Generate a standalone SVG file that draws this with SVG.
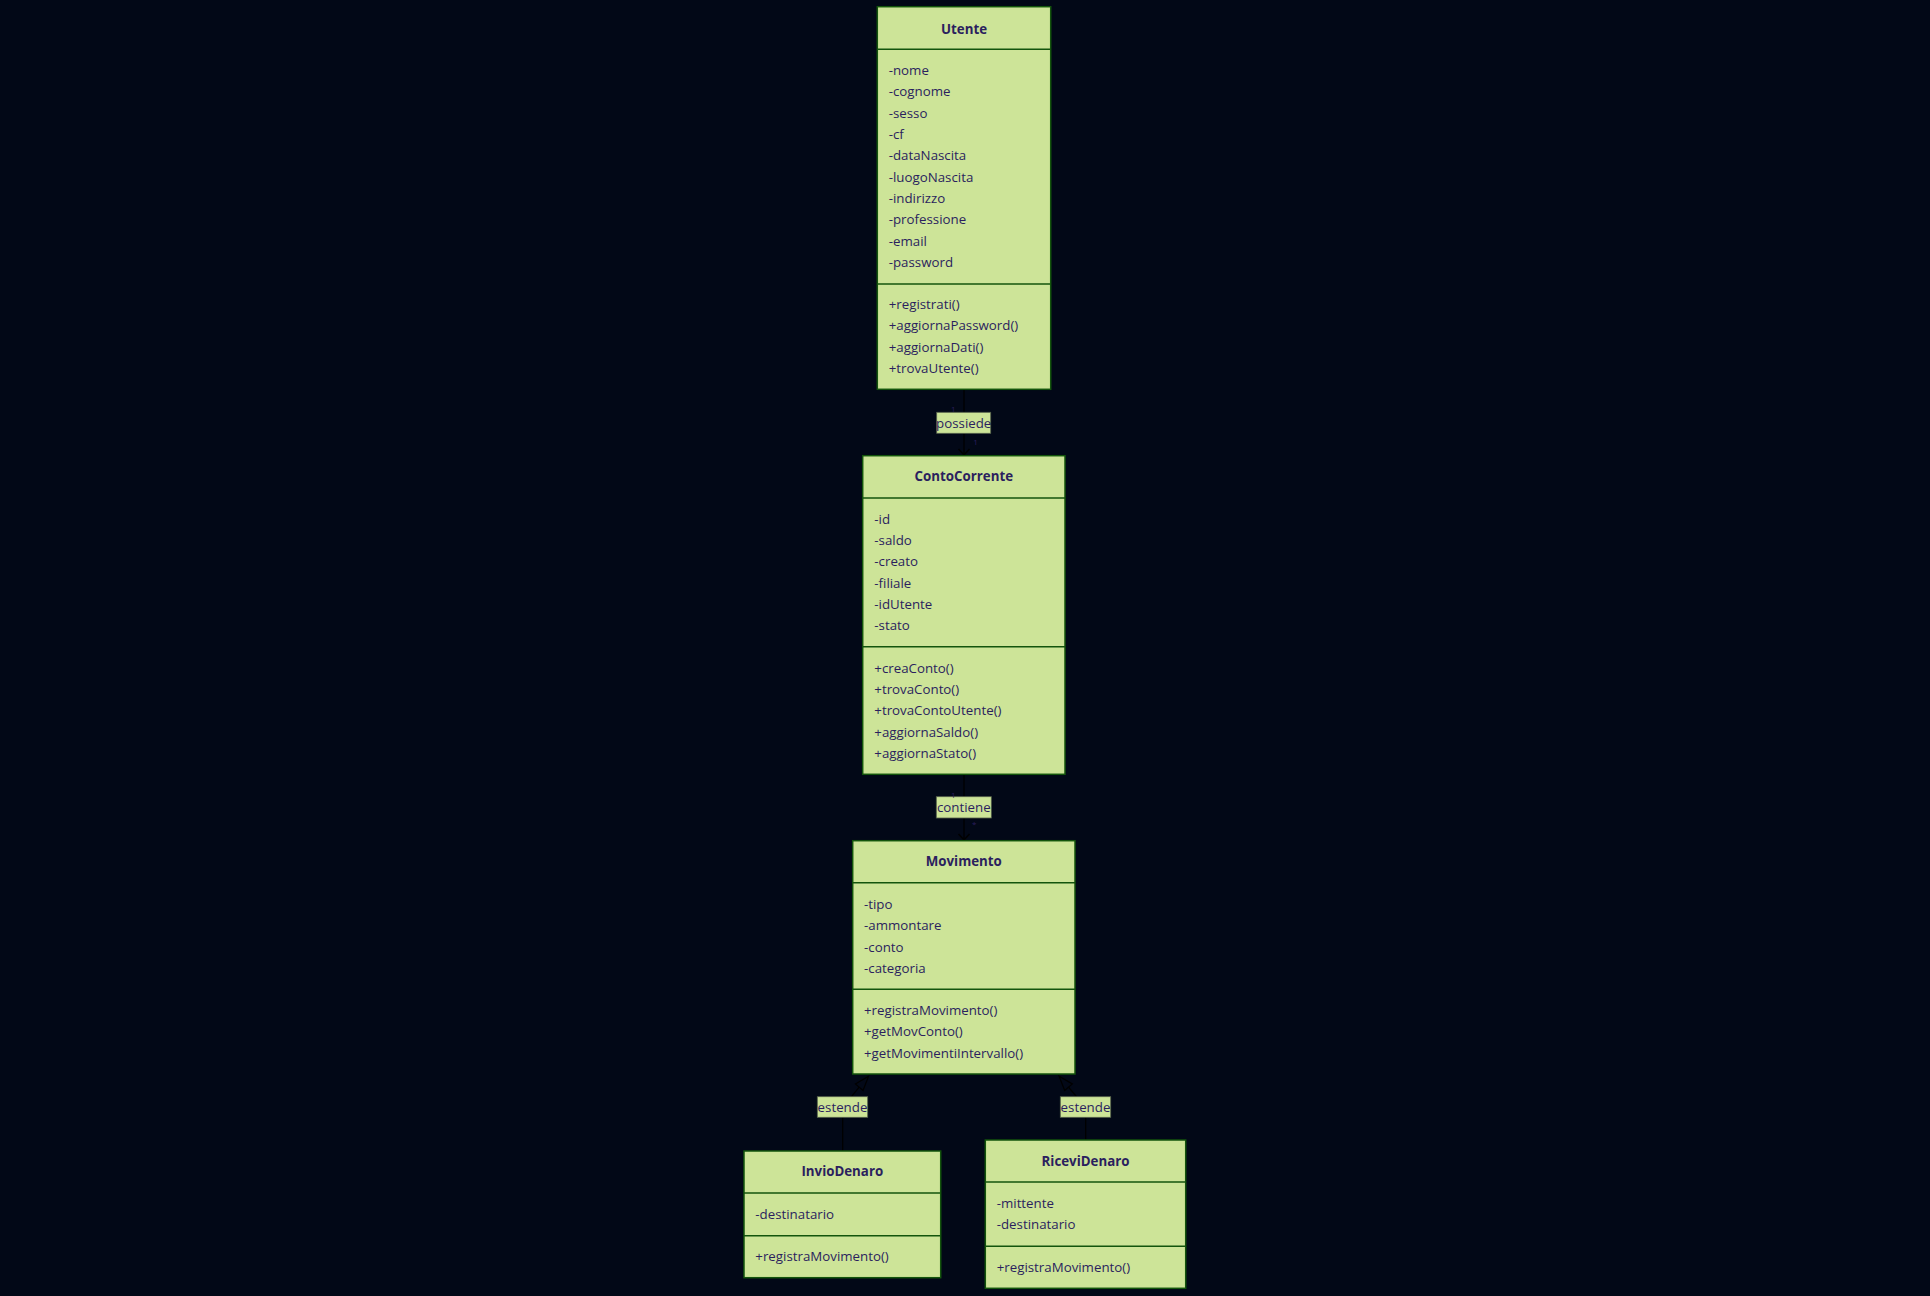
<svg xmlns="http://www.w3.org/2000/svg" width="1930" height="1296" viewBox="0 0 1930 1296">
<defs>
<style>
.bg{fill:#020817}
.box{fill:#cde498;stroke:#13540c;stroke-width:1.5}
.div{stroke:#13540c;stroke-width:1.5}
.t{font-family:"Open Sans","Noto Sans","DejaVu Sans",sans-serif;font-size:13.3px;fill:#2b1f5e}
.title{font-weight:bold;text-anchor:middle}
.edge{fill:none;stroke:#000;stroke-width:1.3}
.lbl{fill:#cde498;stroke:#55604a;stroke-width:0.8}
.lt{text-anchor:middle}
.card{font-family:"Open Sans","Noto Sans","DejaVu Sans",sans-serif;font-size:8px;fill:#2b1f5e;text-anchor:middle}
</style>
<marker id="openArrow" markerUnits="userSpaceOnUse" markerWidth="14" markerHeight="10" viewBox="0 0 14 10" refX="7" refY="9" orient="0" overflow="visible">
<path d="M1.5,3 L7,9 L12.5,3" fill="none" stroke="#000" stroke-width="1.5"/>
</marker>
<marker id="ext" markerUnits="userSpaceOnUse" markerWidth="16" markerHeight="12" viewBox="0 0 16 12" refX="0.5" refY="6" orient="auto" overflow="visible">
<path d="M0.5,1 L15,6 L0.5,11 Z" fill="#020817" stroke="#000" stroke-width="1.2"/>
</marker>
</defs>
<rect class="bg" x="0" y="0" width="1930" height="1296"/>

<g id="connectors">
<path class="edge" d="M964,389.5 L964,455" marker-end="url(#openArrow)"/>
<path class="edge" d="M964,774.5 L964,840" marker-end="url(#openArrow)"/>
<path class="edge" d="M842.7,1151 L842.7,1118 C842.7,1106 850,1098 859.2,1087.2" marker-end="url(#ext)"/>
<path class="edge" d="M1085.7,1140 L1085.7,1118 C1085.7,1106 1077.7,1098 1068.5,1087.2" marker-end="url(#ext)"/>
<g id="label-possiede">
<rect class="lbl" x="936.7" y="412.3" width="54" height="21"/>
<text class="t lt" x="963.7" y="427.5">possiede</text>
<text class="card" x="953.3" y="411.5">1</text>
<text class="card" x="975.5" y="444.5">1</text>
</g>
<g id="label-contiene">
<rect class="lbl" x="936.3" y="796.7" width="55" height="21.3"/>
<text class="t lt" x="963.8" y="812">contiene</text>
<text class="card" x="953.3" y="797.5">1</text>
<text class="card" x="974.3" y="827">*</text>
</g>
<g id="label-estende-1">
<rect class="lbl" x="817.3" y="1096.7" width="50.4" height="20.6"/>
<text class="t lt" x="842.5" y="1111.5">estende</text>
</g>
<g id="label-estende-2">
<rect class="lbl" x="1060.3" y="1096.7" width="50.4" height="20.6"/>
<text class="t lt" x="1085.5" y="1111.5">estende</text>
</g>
</g>

<g id="Utente">
<rect class="box" x="877.3" y="6.7" width="173.4" height="382.6"/>
<line class="div" x1="877.3" y1="49.3" x2="1050.7" y2="49.3"/>
<line class="div" x1="877.3" y1="284" x2="1050.7" y2="284"/>
<text class="t title" x="964" y="33.7">Utente</text>
<text class="t" x="888.7" y="75">-nome</text>
<text class="t" x="888.7" y="96.3">-cognome</text>
<text class="t" x="888.7" y="117.7">-sesso</text>
<text class="t" x="888.7" y="139">-cf</text>
<text class="t" x="888.7" y="160.3">-dataNascita</text>
<text class="t" x="888.7" y="181.7">-luogoNascita</text>
<text class="t" x="888.7" y="203">-indirizzo</text>
<text class="t" x="888.7" y="224.3">-professione</text>
<text class="t" x="888.7" y="245.7">-email</text>
<text class="t" x="888.7" y="267">-password</text>
<text class="t" x="888.7" y="309">+registrati()</text>
<text class="t" x="888.7" y="330.3">+aggiornaPassword()</text>
<text class="t" x="888.7" y="351.7">+aggiornaDati()</text>
<text class="t" x="888.7" y="373">+trovaUtente()</text>
</g>

<g id="ContoCorrente">
<rect class="box" x="862.7" y="455.7" width="202.3" height="318.6"/>
<line class="div" x1="862.7" y1="498" x2="1065" y2="498"/>
<line class="div" x1="862.7" y1="646.7" x2="1065" y2="646.7"/>
<text class="t title" x="963.8" y="481">ContoCorrente</text>
<text class="t" x="874.3" y="523.7">-id</text>
<text class="t" x="874.3" y="545">-saldo</text>
<text class="t" x="874.3" y="566.3">-creato</text>
<text class="t" x="874.3" y="587.7">-filiale</text>
<text class="t" x="874.3" y="609">-idUtente</text>
<text class="t" x="874.3" y="630.3">-stato</text>
<text class="t" x="874.3" y="672.7">+creaConto()</text>
<text class="t" x="874.3" y="694">+trovaConto()</text>
<text class="t" x="874.3" y="715.3">+trovaContoUtente()</text>
<text class="t" x="874.3" y="736.7">+aggiornaSaldo()</text>
<text class="t" x="874.3" y="758">+aggiornaStato()</text>
</g>

<g id="Movimento">
<rect class="box" x="852.7" y="840.7" width="222.3" height="233.3"/>
<line class="div" x1="852.7" y1="882.7" x2="1075" y2="882.7"/>
<line class="div" x1="852.7" y1="989.3" x2="1075" y2="989.3"/>
<text class="t title" x="963.8" y="866">Movimento</text>
<text class="t" x="864" y="909">-tipo</text>
<text class="t" x="864" y="930.3">-ammontare</text>
<text class="t" x="864" y="951.7">-conto</text>
<text class="t" x="864" y="973">-categoria</text>
<text class="t" x="864" y="1015">+registraMovimento()</text>
<text class="t" x="864" y="1036.3">+getMovConto()</text>
<text class="t" x="864" y="1057.7">+getMovimentiIntervallo()</text>
</g>

<g id="InvioDenaro">
<rect class="box" x="744" y="1151" width="196.7" height="126.7"/>
<line class="div" x1="744" y1="1193" x2="940.7" y2="1193"/>
<line class="div" x1="744" y1="1235.7" x2="940.7" y2="1235.7"/>
<text class="t title" x="842.3" y="1176">InvioDenaro</text>
<text class="t" x="755.3" y="1218.7">-destinatario</text>
<text class="t" x="755.3" y="1261">+registraMovimento()</text>
</g>

<g id="RiceviDenaro">
<rect class="box" x="985.3" y="1140" width="200.4" height="148.3"/>
<line class="div" x1="985.3" y1="1182" x2="1185.7" y2="1182"/>
<line class="div" x1="985.3" y1="1246.3" x2="1185.7" y2="1246.3"/>
<text class="t title" x="1085.5" y="1165.7">RiceviDenaro</text>
<text class="t" x="996.7" y="1207.7">-mittente</text>
<text class="t" x="996.7" y="1229">-destinatario</text>
<text class="t" x="996.7" y="1271.7">+registraMovimento()</text>
</g>
</svg>
